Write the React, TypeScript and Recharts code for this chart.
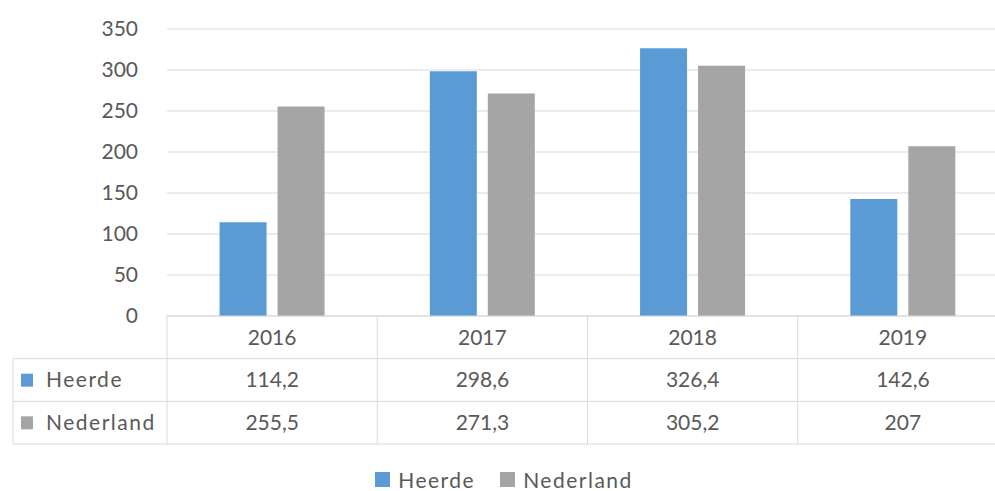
import { BarChart, Bar, XAxis, YAxis, CartesianGrid, Legend } from "recharts";

const years = ["2016", "2017", "2018", "2019"];
const heerde = [114.2, 298.6, 326.4, 142.6];
const nederland = [255.5, 271.3, 305.2, 207];
const yTicks = [0, 50, 100, 150, 200, 250, 300, 350];

const series = [
  { key: "Heerde", label: "Heerde", values: heerde, color: "#5B9BD5" },
  { key: "Nederland", label: "Nederland", values: nederland, color: "#A5A5A5" },
];

const data = years.map((year, i) => ({
  year,
  Heerde: heerde[i],
  Nederland: nederland[i],
}));

// layout
const CHART_W = 1010;
const CHART_H = 491;
const PLOT_LEFT = 167;
const PLOT_RIGHT = 1008;
const PLOT_BOTTOM = 316;
const COL_W = (PLOT_RIGHT - PLOT_LEFT) / years.length;
const ROW_H = 42.67;
const TABLE_LEFT = 13;
const LINE = "#D9D9D9";
const TEXT = "#595959";
const FONT = "Lato, 'Noto Sans', sans-serif";

const fmt = (v: number) => String(v).replace(".", ",");

const TableTick = (props: any) => {
  const { x, payload } = props;
  const i = payload.index;
  const left = x - COL_W / 2;
  const right = x + COL_W / 2;
  const rows = [payload.value, fmt(heerde[i]), fmt(nederland[i])];
  return (
    <g>
      {i === 0 && (
        <g>
          <line x1={TABLE_LEFT} x2={PLOT_LEFT} y1={PLOT_BOTTOM + ROW_H} y2={PLOT_BOTTOM + ROW_H} stroke={LINE} />
          <line x1={TABLE_LEFT} x2={PLOT_LEFT} y1={PLOT_BOTTOM + ROW_H * 2} y2={PLOT_BOTTOM + ROW_H * 2} stroke={LINE} />
          <line x1={TABLE_LEFT} x2={PLOT_LEFT} y1={PLOT_BOTTOM + ROW_H * 3} y2={PLOT_BOTTOM + ROW_H * 3} stroke={LINE} />
          <line x1={TABLE_LEFT} x2={TABLE_LEFT} y1={PLOT_BOTTOM + ROW_H} y2={PLOT_BOTTOM + ROW_H * 3} stroke={LINE} />
          <line x1={PLOT_LEFT} x2={PLOT_LEFT} y1={PLOT_BOTTOM} y2={PLOT_BOTTOM + ROW_H * 3} stroke={LINE} />
          {series.map((s, k) => (
            <g key={s.key}>
              <rect x={21} y={PLOT_BOTTOM + ROW_H * (k + 1) + 15} width={12} height={13} fill={s.color} />
              <text
                x={46}
                y={PLOT_BOTTOM + ROW_H * (k + 1.5)}
                dy="0.35em"
                fill={TEXT}
                fontSize={21}
                fontFamily={FONT}
                letterSpacing={1.5}
              >
                {s.label}
              </text>
            </g>
          ))}
        </g>
      )}
      <line x1={right} x2={right} y1={PLOT_BOTTOM} y2={PLOT_BOTTOM + ROW_H * 3} stroke={LINE} />
      <line x1={left} x2={right} y1={PLOT_BOTTOM + ROW_H} y2={PLOT_BOTTOM + ROW_H} stroke={LINE} />
      <line x1={left} x2={right} y1={PLOT_BOTTOM + ROW_H * 2} y2={PLOT_BOTTOM + ROW_H * 2} stroke={LINE} />
      <line x1={left} x2={right} y1={PLOT_BOTTOM + ROW_H * 3} y2={PLOT_BOTTOM + ROW_H * 3} stroke={LINE} />
      {rows.map((t, r) => (
        <text
          key={r}
          x={x}
          y={PLOT_BOTTOM + ROW_H * (r + 0.5)}
          dy="0.35em"
          textAnchor="middle"
          fill={TEXT}
          fontSize={21}
          fontFamily={FONT}
        >
          {t}
        </text>
      ))}
    </g>
  );
};

const LegendContent = () => (
  <div
    style={{
      height: 23,
      display: "flex",
      justifyContent: "center",
      alignItems: "center",
      gap: 25,
      fontFamily: FONT,
      fontSize: 21,
      color: TEXT,
      letterSpacing: 1.5,
    }}
  >
    {series.map((s) => (
      <div key={s.key} style={{ display: "flex", alignItems: "center", gap: 8 }}>
        <div style={{ width: 15, height: 15, background: s.color }} />
        <span>{s.label}</span>
      </div>
    ))}
  </div>
);

const App = () => {
  return (
    <div
      style={{
        position: "absolute",
        left: 0,
        top: 0,
        width: 995,
        height: 491,
        overflow: "hidden",
        background: "#fff",
      }}
    >
      <BarChart
        width={CHART_W}
        height={CHART_H}
        data={data}
        margin={{ top: 29, right: CHART_W - PLOT_RIGHT, left: 0, bottom: 0 }}
        barCategoryGap="25%"
        barGap={11}
      >
        <CartesianGrid vertical={false} stroke={LINE} />
        <XAxis
          dataKey="year"
          height={152}
          axisLine={{ stroke: LINE }}
          tickLine={false}
          interval={0}
          tick={<TableTick />}
        />
        <YAxis
          width={PLOT_LEFT}
          domain={[0, 350]}
          ticks={yTicks}
          axisLine={false}
          tickLine={false}
          tickMargin={23}
          tick={{ fill: TEXT, fontSize: 21, fontFamily: FONT }}
        />
        <Legend verticalAlign="bottom" content={<LegendContent />} />
        {series.map((s) => (
          <Bar key={s.key} dataKey={s.key} fill={s.color} isAnimationActive={false} />
        ))}
      </BarChart>
    </div>
  );
};

export default App;
